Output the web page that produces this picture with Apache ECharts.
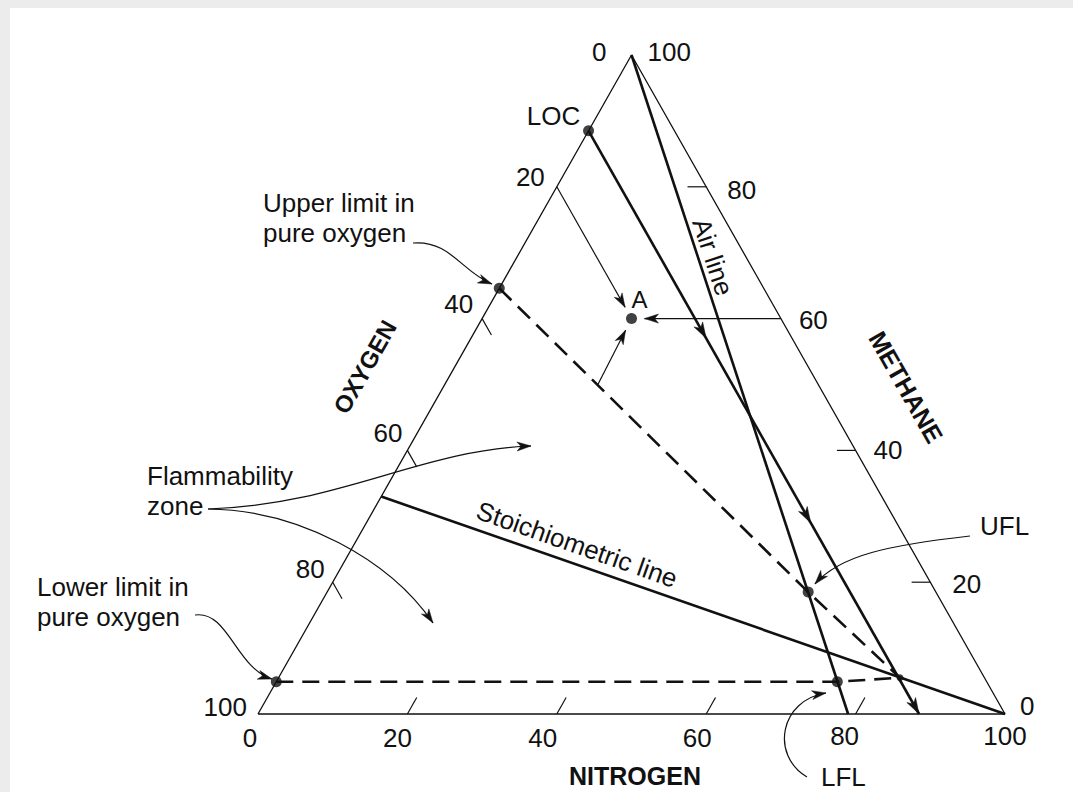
<!DOCTYPE html>
<html>
<head>
<meta charset="utf-8">
<title>Methane flammability diagram</title>
<script src="https://cdn.jsdelivr.net/npm/echarts@6/dist/echarts.min.js"></script>
<style>
  html, body { margin: 0; padding: 0; background: #ececec; }
  #chart { position: absolute; left: 10px; top: 8px; width: 1063px; height: 784px; background: #fff; }
</style>
</head>
<body>
<div id="chart"></div>
<script>
// compositions are [oxygen, nitrogen, methane] in vol %
const oxygenTicks = [0, 20, 40, 60, 80, 100]
const methaneTicks = [100, 80, 60, 40, 20, 0]
const nitrogenTicks = [0, 20, 40, 60, 80, 100]
const oxygenTickMarks = [40, 60, 80]
const methaneTickMarks = [80, 40, 20]
const nitrogenTickMarks = [20, 40, 60, 80]

const frame = [[100, 0, 0], [0, 100, 0], [0, 0, 100], [100, 0, 0]]
const locLine = [[11.5, 0, 88.5], [11.5, 88.5, 0]]
const airLine = [[0, 0, 100], [21, 79, 0]]
const stoichLine = [[67, 0, 33], [0, 100, 0]]
const upperLimitLine = [[35.4, 0, 64.6], [17.1, 64.4, 18.5], [11.3, 83.2, 5.5]]
const lowerLimitLine = [[95.1, 0, 4.9], [20, 75.1, 4.9], [11.3, 83.2, 5.5]]

const locPoint = [11.5, 0, 88.5]
const upperO2Point = [35.4, 0, 64.6]
const lowerO2Point = [95.1, 0, 4.9]
const uflPoint = [17.1, 64.4, 18.5]
const lflPoint = [20, 75.1, 4.9]
const nosePoint = [11.3, 83.2, 5.5]
const pointA = [20, 20, 60]

// arrows along the LOC line (tip compositions)
const locArrowTips = [[11.5, 31.5, 57], [11.5, 59.5, 29], [11.5, 88.5, 0]]
// starting points of the three arrows that locate A
const arrowsToA = [[20, 0, 80], [0, 40, 60], [29.5, 20.5, 50]]

// annotation leaders, plot units [x, y] (start, control, control, tip)
const upperLimitLeader = [[20.75, 71.47], [25.7, 71.93], [27.31, 67.07], [31.33, 65.25]]
const zoneLeaderUp = [[-6.69, 31.11], [10.98, 31.71], [21.69, 40.06], [36.55, 40.67]]
const zoneLeaderDown = [[-6.69, 31.11], [5.62, 30.96], [17.67, 23.37], [23.43, 13.81]]
const lowerLimitLeader = [[-8.43, 15.02], [-4.02, 15.78], [-2.95, 6.98], [1.87, 5.31]]
const uflLeader = [[95.31, 27.01], [84.6, 25.64], [77.91, 24.13], [74.56, 19.73]]
const lflLeader = [[73.49, -9.56], [68.54, -6.22], [69.88, 2.12], [76.04, 3.19]]

const INK = '#111'
const FONT = '"Liberation Sans", Arial, Helvetica, sans-serif'

// ternary -> plot units (bottom edge 0..100, height 0..100)
function toXY(c) {
    return [c[1] + c[2] / 2, c[2]]
}

// tick label nudges in px
const leftNudge = [[-25, -3], [-12, -10], [-9, -15], [-5, -17], [-8, -13], [-11, -7]]
const rightNudge = [[16, -3], [21, 3], [18, 1], [18, 0], [22, 2], [15, -8]]
const bottomNudge = [[-8, 24], [-10, 24], [-14, 24], [-9, 24], [-11, 22], [0, 22]]

const TICK = 2.5
const tickSegments = []
oxygenTickMarks.forEach(o => {
    tickSegments.push([...toXY([o, 0, 100 - o]), ...toXY([o, TICK, 100 - o - TICK])])
})
methaneTickMarks.forEach(m => {
    tickSegments.push([...toXY([0, 100 - m, m]), ...toXY([TICK, 100 - m - TICK, m])])
})
nitrogenTickMarks.forEach(n => {
    tickSegments.push([...toXY([100 - n, n, 0]), ...toXY([100 - n - TICK, n, TICK])])
})

const texts = []
oxygenTicks.forEach((o, i) => texts.push({ text: String(o), at: toXY([o, 0, 100 - o]), off: leftNudge[i], align: 'right' }))
methaneTicks.forEach((m, i) => texts.push({ text: String(m), at: toXY([0, 100 - m, m]), off: rightNudge[i], align: 'left' }))
nitrogenTicks.forEach((n, i) => texts.push({ text: String(n), at: toXY([100 - n, n, 0]), off: bottomNudge[i], align: 'center' }))
texts.push(
    { text: 'LOC', at: toXY(locPoint), off: [-35, -15] },
    { text: 'A', at: toXY(pointA), off: [8, -19], font: '24px ' + FONT },
    { text: 'Upper limit in\npure oxygen', at: [0.67, 75.27], align: 'left' },
    { text: 'Flammability\nzone', at: [-14.86, 33.84], align: 'left' },
    { text: 'Lower limit in\npure oxygen', at: [-29.59, 17.07], align: 'left' },
    { text: 'UFL', at: [96.65, 28.53], align: 'left' },
    { text: 'LFL', at: [75.37, -9.56], align: 'left' },
    { text: 'Air line', at: [60.91, 69.35], rotate: -71.85 },
    { text: 'Stoichiometric line', at: [42.7, 25.72], rotate: -19.4 },
    { text: 'OXYGEN', at: [14.32, 52.66], rotate: 60.45, font: 'bold 24px ' + FONT },
    { text: 'METHANE', at: [86.75, 49.62], rotate: -60.45, font: 'bold 25px ' + FONT },
    { text: 'NITROGEN', at: [50.47, -9.4], font: 'bold 25px ' + FONT }
)

function arrowHead(tip, from, len, half) {
    const dx = tip[0] - from[0]
    const dy = tip[1] - from[1]
    const d = Math.hypot(dx, dy) || 1
    const ux = dx / d
    const uy = dy / d
    const bx = tip[0] - ux * len
    const by = tip[1] - uy * len
    const nx = tip[0] - ux * len * 0.72
    const ny = tip[1] - uy * len * 0.72
    return {
        type: 'polygon',
        shape: { points: [tip, [bx - uy * half, by + ux * half], [nx, ny], [bx + uy * half, by - ux * half]] },
        style: { fill: INK, stroke: INK, lineWidth: 0.5 }
    }
}

function segmentItem(params, api) {
    const a = api.coord([api.value(0), api.value(1)])
    const b = api.coord([api.value(2), api.value(3)])
    return {
        type: 'line',
        shape: { x1: a[0], y1: a[1], x2: b[0], y2: b[1] },
        style: { stroke: INK, lineWidth: 1.2 }
    }
}

function arrowToItem(params, api) {
    const a = api.coord([api.value(0), api.value(1)])
    const b = api.coord([api.value(2), api.value(3)])
    const d = Math.hypot(b[0] - a[0], b[1] - a[1])
    const gap = 13
    const tip = [b[0] - (b[0] - a[0]) / d * gap, b[1] - (b[1] - a[1]) / d * gap]
    return {
        type: 'group',
        children: [
            { type: 'line', shape: { x1: a[0], y1: a[1], x2: tip[0], y2: tip[1] }, style: { stroke: INK, lineWidth: 1.2 } },
            arrowHead(tip, a, 14, 4.5)
        ]
    }
}

function lineArrowItem(params, api) {
    const tip = api.coord([api.value(0), api.value(1)])
    const from = api.coord([api.value(2), api.value(3)])
    return arrowHead(tip, from, 16, 5)
}

function leaderItem(params, api) {
    const p = [0, 1, 2, 3].map(k => api.coord([api.value(2 * k), api.value(2 * k + 1)]))
    return {
        type: 'group',
        children: [
            {
                type: 'bezierCurve',
                shape: {
                    x1: p[0][0], y1: p[0][1],
                    cpx1: p[1][0], cpy1: p[1][1],
                    cpx2: p[2][0], cpy2: p[2][1],
                    x2: p[3][0], y2: p[3][1]
                },
                style: { stroke: INK, lineWidth: 1.2, fill: 'none' }
            },
            arrowHead(p[3], p[2], 14, 4.5)
        ]
    }
}

function textItem(params, api) {
    const t = texts[params.dataIndex]
    const p = api.coord([api.value(0), api.value(1)])
    const off = t.off || [0, 0]
    return {
        type: 'text',
        x: p[0] + off[0],
        y: p[1] + off[1],
        rotation: (t.rotate || 0) * Math.PI / 180,
        style: {
            text: t.text,
            fill: INK,
            font: t.font || ('26px ' + FONT),
            align: t.align || 'center',
            verticalAlign: 'middle',
            lineHeight: 30
        }
    }
}

function lineSeries(points, extra) {
    return Object.assign({
        type: 'line',
        data: points.map(toXY),
        symbol: 'none',
        clip: false,
        silent: true,
        lineStyle: { color: INK, width: 2.6, cap: 'butt' },
        z: 3
    }, extra)
}

const chart = echarts.init(document.getElementById('chart'), null, { renderer: 'svg' })
chart.setOption({
    animation: false,
    grid: { left: 248, top: 47, width: 747, height: 659 },
    xAxis: { type: 'value', min: 0, max: 100, show: false },
    yAxis: { type: 'value', min: 0, max: 100, show: false },
    series: [
        lineSeries(frame, { lineStyle: { color: INK, width: 1.3 }, z: 2 }),
        {
            type: 'custom',
            clip: false,
            silent: true,
            data: tickSegments,
            encode: { x: [0, 2], y: [1, 3] },
            renderItem: segmentItem,
            z: 2
        },
        lineSeries(locLine),
        lineSeries(airLine),
        lineSeries(stoichLine),
        lineSeries(upperLimitLine, { lineStyle: { color: INK, width: 2.6, type: [17, 9] } }),
        lineSeries(lowerLimitLine, { lineStyle: { color: INK, width: 2.6, type: [17, 9] } }),
        {
            type: 'custom',
            clip: false,
            silent: true,
            data: locArrowTips.map(c => [...toXY(c), ...toXY(locPoint)]),
            encode: { x: [0, 2], y: [1, 3] },
            renderItem: lineArrowItem,
            z: 4
        },
        {
            type: 'custom',
            clip: false,
            silent: true,
            data: arrowsToA.map(c => [...toXY(c), ...toXY(pointA)]),
            encode: { x: [0, 2], y: [1, 3] },
            renderItem: arrowToItem,
            z: 4
        },
        {
            type: 'custom',
            clip: false,
            silent: true,
            data: [upperLimitLeader, zoneLeaderUp, zoneLeaderDown, lowerLimitLeader, uflLeader, lflLeader].map(l => l.flat()),
            encode: { x: [0, 2, 4, 6], y: [1, 3, 5, 7] },
            renderItem: leaderItem,
            z: 4
        },
        {
            type: 'scatter',
            clip: false,
            silent: true,
            data: [locPoint, upperO2Point, lowerO2Point, uflPoint, lflPoint, pointA].map(toXY),
            symbolSize: 11,
            itemStyle: { color: INK },
            z: 5
        },
        {
            type: 'scatter',
            clip: false,
            silent: true,
            data: [toXY(nosePoint)],
            symbolSize: 7,
            itemStyle: { color: INK },
            z: 5
        },
        {
            type: 'custom',
            clip: false,
            silent: true,
            data: texts.map(t => t.at),
            encode: { x: 0, y: 1 },
            renderItem: textItem,
            z: 6
        }
    ]
})
</script>
</body>
</html>
